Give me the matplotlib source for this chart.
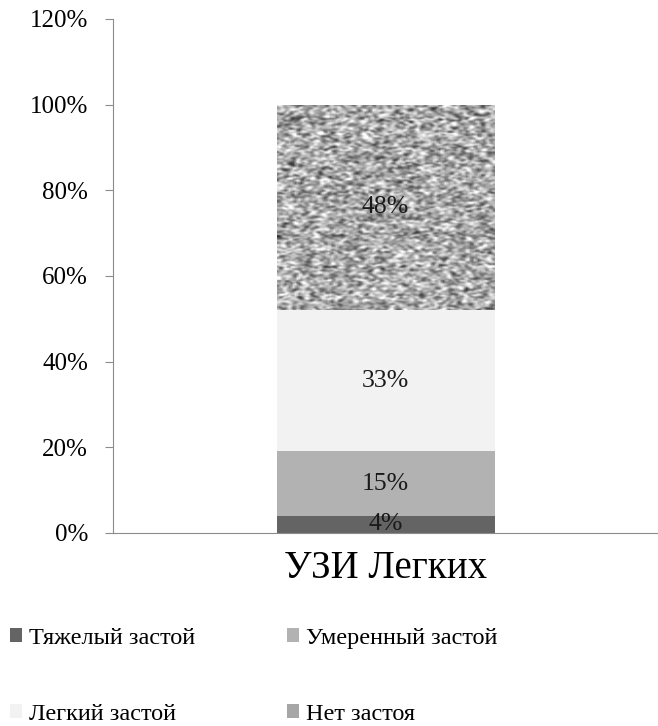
import numpy as np
import matplotlib.pyplot as plt
from matplotlib.patches import Patch

plt.rcParams["font.family"] = ["Liberation Serif", "DejaVu Serif"]

# данные
category = "УЗИ Легких"
labels = ["Тяжелый застой", "Умеренный застой", "Легкий застой", "Нет застоя"]
values = [4, 15, 33, 48]
colors = ["#646464", "#b2b2b2", "#f2f2f2", "#a6a6a6"]
yticks = [0, 20, 40, 60, 80, 100, 120]

fig = plt.figure(figsize=(6.58, 7.26), dpi=100)
ax = fig.add_axes([0.172, 0.266, 0.828, 0.708])

bottom = 0
bars = []
for v, c in zip(values, colors):
    b = ax.bar(0, v, width=0.4, bottom=bottom, color=c, zorder=2)
    bars.append(b[0])
    ax.text(0, bottom + v / 2, f"{v}%", ha="center", va="center",
            fontsize=18.5, color="#1a1a1a", zorder=4)
    bottom += v

# зернистая текстура для "Нет застоя"
rng = np.random.default_rng(3)
noise = rng.random((200, 120))
k = np.array([1, 2, 1], dtype=float)
k /= k.sum()
noise = np.apply_along_axis(lambda r: np.convolve(r, k, mode="same"), 0, noise)
noise = np.apply_along_axis(lambda r: np.convolve(r, k, mode="same"), 1, noise)
noise = noise[4:-4, 4:-4]
noise = (noise - noise.mean()) / noise.std()
top = bars[-1]
x0, y0 = top.get_x(), top.get_y()
img = ax.imshow(noise, cmap="gray", vmin=-4.6, vmax=2.3, aspect="auto",
                extent=[x0, x0 + top.get_width(), y0, y0 + top.get_height()],
                zorder=3, interpolation="bilinear")
img.set_clip_path(top)

ax.set_xlim(-0.5, 0.5)
ax.set_ylim(0, 120)
ax.set_yticks(yticks)
ax.set_yticklabels([f"{t}%" for t in yticks], fontsize=18)
ax.set_xticks([0])
ax.set_xticklabels([category], fontsize=28)
ax.tick_params(axis="x", length=0, pad=12)
ax.tick_params(axis="y", length=6, color="#8c8c8c", pad=12)
for s in ["top", "right"]:
    ax.spines[s].set_visible(False)
for s in ["left", "bottom"]:
    ax.spines[s].set_color("#8c8c8c")

handles = [Patch(facecolor=c) for c in colors]
order = [0, 2, 1, 3]
fig.legend([handles[i] for i in order], [labels[i] for i in order],
           ncol=2, loc="upper left", bbox_to_anchor=(0.015, 0.135),
           frameon=False, fontsize=17.5, handlelength=0.5, handleheight=0.5,
           handletextpad=0.3, labelspacing=2.25, columnspacing=3.75,
           borderpad=0, borderaxespad=0)

plt.savefig("out.png", dpi=100)
